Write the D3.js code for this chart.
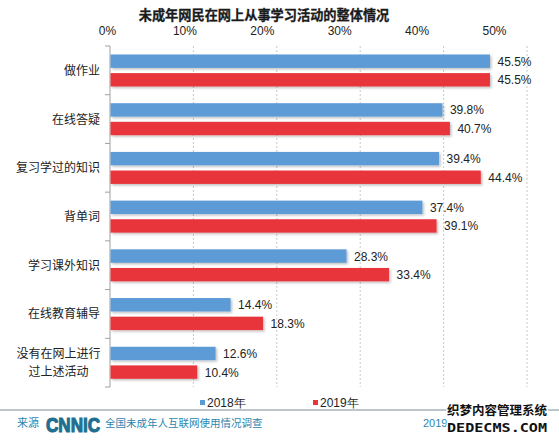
<!DOCTYPE html>
<html><head><meta charset="utf-8">
<script src="https://cdn.jsdelivr.net/npm/d3@7"></script>
<style>
html,body{margin:0;padding:0;background:#fff;}
svg{display:block;font-family:"Noto Sans CJK SC","Noto Sans",sans-serif;}
</style></head>
<body><svg id="c" width="559" height="441"></svg>
<script>
const categories = ["做作业","在线答疑","复习学过的知识","背单词","学习课外知识","在线教育辅导","没有在网上进行\n过上述活动"];
const series2018 = [45.5,39.8,39.4,37.4,28.3,14.4,12.6];
const series2019 = [45.5,40.7,44.4,39.1,33.4,18.3,10.4];
const seriesNames = ["2018年","2019年"];
const tickValues = [0,10,20,30,40,50];
const title = "未成年网民在网上从事学习活动的整体情况";

const svg = d3.select("#c");
const colors = ["#5B9BD5","#E8363B"];

const defs = svg.append("defs");
const f = defs.append("filter").attr("id","sh").attr("x","-5%").attr("y","-30%").attr("width","110%").attr("height","160%");
f.append("feDropShadow").attr("dx",1.5).attr("dy",1.5).attr("stdDeviation",1).attr("flood-color","#000").attr("flood-opacity",0.25);

const x = d3.scaleLinear().domain([0,50]).range([110,527]);
const xLab = d3.scaleLinear().domain([0,50]).range([107,494]);
const y = d3.scaleBand().domain(categories).range([46,387]);
const inner = d3.scaleBand().domain([0,1]).range([8.5,40.5]).paddingInner(0.28);

// title
svg.append("text").attr("x",264).attr("y",20).attr("text-anchor","middle")
  .attr("font-size",13.2).attr("font-weight","bold").attr("fill","#1a1a1a")
  .attr("stroke","#1a1a1a").attr("stroke-width",0.3).text(title);

// top tick labels
const ax = svg.append("g").attr("transform","translate(0,38)")
  .call(d3.axisTop(xLab).tickValues(tickValues).tickSize(0).tickFormat(d=>d+"%"));
ax.select(".domain").remove();
ax.selectAll("text").attr("font-size",12).attr("fill","#222").attr("font-family","Liberation Sans, Arial, sans-serif");

// grid
svg.append("g").selectAll("line").data(tickValues.slice(1)).join("line")
  .attr("x1",d=>x(d)).attr("x2",d=>x(d)).attr("y1",46).attr("y2",387)
  .attr("stroke","#c8c8c8").attr("stroke-dasharray","2,2");

// left axis
svg.append("line").attr("x1",110).attr("x2",110).attr("y1",46).attr("y2",387).attr("stroke","#a0a0a0");
const bounds = categories.map(c=>y(c)).concat([387]);
svg.append("g").selectAll("line").data(bounds).join("line")
  .attr("x1",105).attr("x2",110).attr("y1",d=>d).attr("y2",d=>d).attr("stroke","#a0a0a0");

// bars
const data = [series2018, series2019];
data.forEach((vals, si) => {
  const g = svg.append("g");
  g.selectAll("rect").data(vals).join("rect")
    .attr("x",x(0)+0.5).attr("y",(d,i)=>y(categories[i])+inner(si))
    .attr("width",d=>x(d)-x(0)).attr("height",inner.bandwidth())
    .attr("fill",colors[si]).attr("filter","url(#sh)");
  g.selectAll("text").data(vals).join("text")
    .attr("x",d=>x(d)+8).attr("y",(d,i)=>y(categories[i])+inner(si)+inner.bandwidth()/2+4.5)
    .attr("font-size",12).attr("fill","#222").attr("font-family","Liberation Sans, Arial, sans-serif")
    .text(d=>d.toFixed(1)+"%");
});

// category labels
categories.forEach(c => {
  const lines = c.split("\n");
  const cy = y(c)+y.bandwidth()/2;
  if (lines.length === 1) {
    svg.append("text").attr("x",100).attr("y",cy+4.5).attr("text-anchor","end")
      .attr("font-size",12).attr("fill","#222").text(c);
  } else {
    lines.forEach((l,i)=>{
      svg.append("text").attr("x",58.5).attr("y",cy+4.5+(i-0.5)*17.6).attr("text-anchor","middle")
        .attr("font-size",12).attr("fill","#222").text(l);
    });
  }
});

// legend
const legX = [200, 313];
seriesNames.forEach((n,i)=>{
  svg.append("rect").attr("x",legX[i]).attr("y",400).attr("width",5).attr("height",5).attr("fill",colors[i]);
  svg.append("text").attr("x",legX[i]+7).attr("y",407).attr("font-size",12).attr("fill","#222")
    .attr("font-family","Liberation Sans, Arial, sans-serif").text(n);
});

// footer
svg.append("line").attr("x1",0).attr("x2",559).attr("y1",410).attr("y2",410).attr("stroke","#7a8a9a").attr("stroke-width",1);
svg.append("text").attr("x",17).attr("y",427).attr("font-size",11).attr("fill","#2a86b0").text("来源");
svg.append("text").attr("x",46).attr("y",432).attr("font-size",21).attr("font-weight","900")
  .attr("font-family","Liberation Sans, Arial, sans-serif").attr("fill","#1f6f90")
  .attr("stroke","#1f6f90").attr("stroke-width",1.2).attr("textLength",54)
  .attr("lengthAdjust","spacingAndGlyphs").text("CNNIC");
svg.append("text").attr("x",105).attr("y",427).attr("font-size",10.5).attr("fill","#2a86b0").text("全国未成年人互联网使用情况调查");
svg.append("text").attr("x",423).attr("y",427).attr("font-size",11).attr("fill","#2a86b0")
  .attr("font-family","Liberation Sans, Arial, sans-serif").text("2019");
// watermark overlay
const wm = svg.append("g").attr("font-weight","bold").attr("fill","#111").attr("stroke","#fff").attr("stroke-width",2.5).attr("paint-order","stroke");
wm.append("text").attr("x",447).attr("y",415).attr("font-size",12.5).attr("textLength",100).attr("lengthAdjust","spacingAndGlyphs").text("织梦内容管理系统");
wm.append("text").attr("x",447).attr("y",432).attr("font-size",12).attr("font-family","DejaVu Sans Mono, monospace").attr("textLength",100).attr("lengthAdjust","spacingAndGlyphs").text("DEDECMS.COM");
</script></body></html>
